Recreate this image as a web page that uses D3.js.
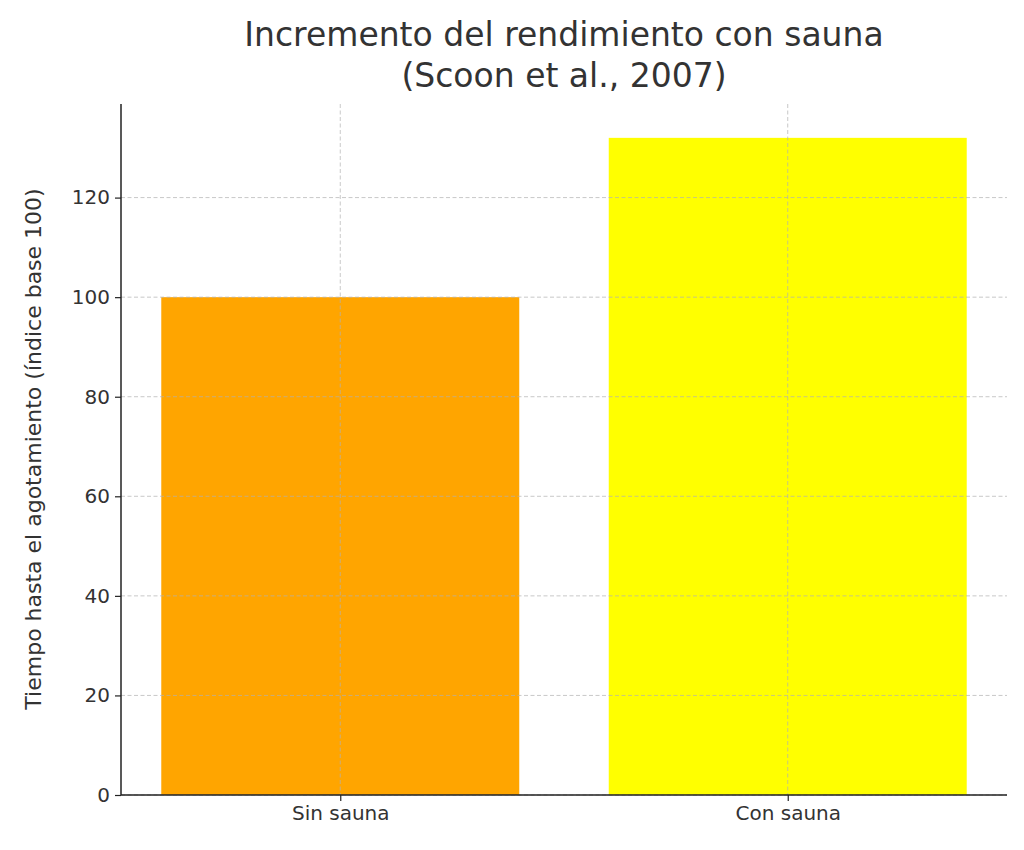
<!DOCTYPE html>
<html><head><meta charset="utf-8">
<script src="https://cdn.jsdelivr.net/npm/d3@7/dist/d3.min.js"></script>
<style>body{margin:0;background:#fff}text{font-family:"DejaVu Sans",sans-serif;fill:#333}</style>
</head><body><svg id="c" width="1024" height="850"></svg>
<script>
const categories=["Sin sauna","Con sauna"];
const values=[100,132];
const colors=["orange","yellow"];
const yTicks=[0,20,40,60,80,100,120];
const title=["Incremento del rendimiento con sauna","(Scoon et al., 2007)"];
const yLabel="Tiempo hasta el agotamiento (índice base 100)";

const svg=d3.select("#c");
const L=121,R=1007,T=104,B=795;
const x=d3.scaleLinear().domain([-0.49,1.49]).range([L,R]);
const y=d3.scaleLinear().domain([0,138.8]).range([B,T]);
const bw=x(0.4)-x(-0.4);
svg.selectAll("rect.bar").data(values).join("rect")
 .attr("x",(d,i)=>x(i)-bw/2).attr("y",d=>y(d)).attr("width",bw).attr("height",d=>B-y(d))
 .attr("fill",(d,i)=>colors[i]);
const g=svg.append("g");
g.selectAll("line.h").data(yTicks).join("line").attr("x1",L).attr("x2",R)
 .attr("y1",d=>y(d)).attr("y2",d=>y(d)).attr("stroke","#b0b0b0").attr("stroke-opacity",0.7).attr("stroke-dasharray","4,2.5").attr("stroke-width",1);
g.selectAll("line.v").data(categories).join("line").attr("y1",T).attr("y2",B)
 .attr("x1",(d,i)=>x(i)).attr("x2",(d,i)=>x(i)).attr("stroke","#b0b0b0").attr("stroke-opacity",0.7).attr("stroke-dasharray","4,2.5").attr("stroke-width",1);
const ya=svg.append("g").attr("transform",`translate(${L},0)`)
 .call(d3.axisLeft(y).tickValues(yTicks).tickSize(6).tickPadding(5));
const xa=svg.append("g").attr("transform",`translate(0,${B})`)
 .call(d3.axisBottom(x).tickValues([0,1]).tickFormat(i=>categories[i]).tickSize(6).tickPadding(5));
[ya,xa].forEach(a=>{a.selectAll("text").style("font-size","20px").attr("fill","#222");
 a.selectAll("line").attr("stroke","#222").attr("stroke-width",1.2);
 a.select(".domain").remove();});
svg.append("line").attr("x1",L).attr("x2",L).attr("y1",T).attr("y2",B).attr("stroke","#222").attr("stroke-width",1.5);
svg.append("line").attr("x1",L).attr("x2",R).attr("y1",B).attr("y2",B).attr("stroke","#222").attr("stroke-width",1.5);
svg.selectAll("text.t").data(title).join("text").attr("x",564).attr("y",(d,i)=>46+i*41)
 .attr("text-anchor","middle").style("font-size","33px").text(d=>d);
svg.append("text").attr("transform",`translate(41,449) rotate(-90)`).attr("text-anchor","middle")
 .style("font-size","22px").text(yLabel);
</script></body></html>
